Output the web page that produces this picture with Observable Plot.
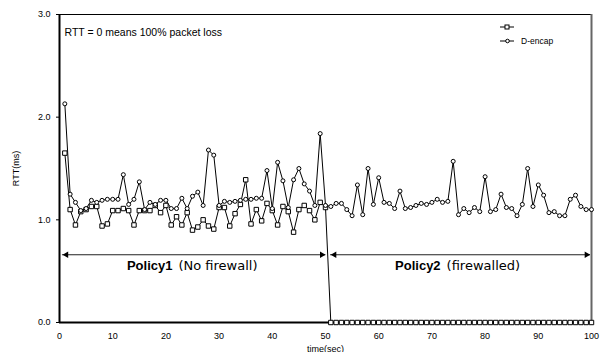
<!DOCTYPE html>
<html>
<head>
<meta charset="utf-8">
<script src="https://cdn.jsdelivr.net/npm/d3@7"></script>
<script src="https://cdn.jsdelivr.net/npm/@observablehq/plot@0.6"></script>
<style>
  html, body { margin: 0; padding: 0; background: white; }
  #wrap { position: relative; width: 606px; height: 352px; font-family: 'Liberation Sans', Arial, sans-serif; }
  #legend { position: absolute; left: 498px; top: 20px; font-size: 8.5px; color: #000; }
  #legend .row { display: flex; align-items: center; height: 14px; }
  #legend svg { display: block; }
</style>
</head>
<body>
<div id="wrap"><div id="legend"></div></div>
<script>
// ---- data ----
const seriesNames = ["", "D-encap"];
const time = [1,2,3,4,5,6,7,8,9,10,11,12,13,14,15,16,17,18,19,20,21,22,23,24,25,26,27,28,29,30,31,32,33,34,35,36,37,38,39,40,41,42,43,44,45,46,47,48,49,50,
  51,52,53,54,55,56,57,58,59,60,61,62,63,64,65,66,67,68,69,70,71,72,73,74,75,76,77,78,79,80,81,82,83,84,85,86,87,88,89,90,91,92,93,94,95,96,97,98,99,100];
const squareRTT = [1.65,1.10,0.95,1.08,1.10,1.13,1.13,0.94,0.96,1.09,1.09,1.11,1.09,0.95,1.09,1.09,1.09,1.14,1.07,1.14,
  0.95,1.03,0.95,1.07,0.90,0.93,1.00,0.94,0.91,1.12,1.12,0.94,1.06,1.15,1.39,0.96,1.10,0.99,1.16,1.09,
  0.95,1.13,1.08,0.88,1.10,1.14,1.09,1.00,1.17,1.12,
  0,0,0,0,0,0,0,0,0,0,0,0,0,0,0,0,0,0,0,0,0,0,0,0,0,0,0,0,0,0,0,0,0,0,0,0,0,0,0,0,0,0,0,0,0,0,0,0,0,0];
const circleRTT = [2.13,1.25,1.17,1.09,1.11,1.19,1.17,1.19,1.20,1.20,1.20,1.44,1.15,1.20,1.37,1.10,1.17,1.15,1.19,1.19,
  1.11,1.11,1.21,1.11,1.23,1.27,1.14,1.68,1.63,1.14,1.18,1.17,1.18,1.19,1.20,1.20,1.21,1.21,1.48,1.11,
  1.56,1.38,1.12,1.39,1.50,1.35,1.28,1.14,1.84,1.14,1.13,1.16,1.16,1.10,1.04,1.34,1.05,1.50,1.15,1.41,
  1.17,1.16,1.11,1.28,1.11,1.12,1.14,1.16,1.15,1.17,1.20,1.17,1.18,1.57,1.05,1.11,1.07,1.12,1.08,1.42,
  1.08,1.10,1.25,1.12,1.11,1.04,1.15,1.50,1.13,1.34,1.24,1.07,1.08,1.04,1.04,1.20,1.24,1.13,1.10,1.10];
const xTicks = [0,10,20,30,40,50,60,70,80,90,100];
const yTicks = [0,1,2,3];
const noteText = "RTT = 0 means 100% packet loss";
const policyNames = ["Policy1", "Policy2"];
const policyNotes = ["(No firewall)", "(firewalled)"];
const policyStart = [0.55, 50.95];
const policyEnd = [50.05, 99.8];
const policySplit = [21.8, 72.2];
const arrowY = 0.66;
const policyTextY = 0.555;

// ---- build ----
const rows = time.map((t, i) => ({t, sq: squareRTT[i], ci: circleRTT[i]}));
const policies = policyNames.map((name, i) => ({name, note: policyNotes[i], start: policyStart[i], end: policyEnd[i], split: policySplit[i]}));

const chart = Plot.plot({
  width: 606,
  height: 352,
  marginLeft: 59,
  marginRight: 15,
  marginTop: 14,
  marginBottom: 30,
  style: {fontFamily: "'Liberation Sans', Arial, sans-serif", fontSize: "9px", background: "white", color: "black", overflow: "visible"},
  x: {domain: [0, 100], ticks: xTicks, tickSize: 0, tickPadding: 10, label: "time(sec)", labelAnchor: "center", labelOffset: 29, labelArrow: "none"},
  y: {domain: [0, 3], ticks: yTicks, tickFormat: d3.format(".1f"), tickSize: 3, tickPadding: 6, label: "RTT(ms)", labelAnchor: "center", labelOffset: 47, labelArrow: "none"},
  marks: [
    Plot.frame({stroke: "black", strokeWidth: 1}),
    Plot.ruleX([100], {stroke: "#666", strokeWidth: 2}),
    Plot.ruleX([0], {stroke: "black", strokeWidth: 2}),
    Plot.ruleY([0], {stroke: "black", strokeWidth: 2}),
    Plot.text([noteText], {frameAnchor: "top-left", text: d => d, dx: 5, dy: 14, textAnchor: "start", fontSize: 10.5}),
    // policy arrows
    Plot.ruleY(policies, {y: () => arrowY, x1: "start", x2: "end", stroke: "#222", strokeWidth: 1.2}),
    Plot.dot(policies, {x: "start", y: () => arrowY, symbol: "triangle", rotate: -90, r: 2.4, fill: "black", stroke: "none", dx: 3.9}),
    Plot.dot(policies, {x: "end", y: () => arrowY, symbol: "triangle", rotate: 90, r: 2.4, fill: "black", stroke: "none", dx: -3.9}),
    Plot.text(policies, {x: "split", y: () => policyTextY, text: "name", textAnchor: "end", fontWeight: "bold", fontSize: 13, dx: -3}),
    Plot.text(policies, {x: "split", y: () => policyTextY, text: "note", textAnchor: "start", fontSize: 13, fontFamily: "'DejaVu Sans', sans-serif", dx: 3}),
    // series
    Plot.line(rows, {x: "t", y: "sq", stroke: "black", strokeWidth: 1}),
    Plot.line(rows, {x: "t", y: "ci", stroke: "black", strokeWidth: 1}),
    Plot.dot(rows, {x: "t", y: "sq", symbol: "square", r: 2.5, fill: "white", stroke: "black", strokeWidth: 1}),
    Plot.dot(rows, {x: "t", y: "ci", symbol: "circle", r: 2, fill: "white", stroke: "black", strokeWidth: 1})
  ]
});
document.getElementById("wrap").prepend(chart);

// legend overlay
const legend = document.getElementById("legend");
seriesNames.forEach((name, i) => {
  const row = document.createElement("div");
  row.className = "row";
  const ns = "http://www.w3.org/2000/svg";
  const svg = document.createElementNS(ns, "svg");
  svg.setAttribute("width", 20); svg.setAttribute("height", 14);
  const line = document.createElementNS(ns, "line");
  line.setAttribute("x1", 2); line.setAttribute("x2", 16); line.setAttribute("y1", 7); line.setAttribute("y2", 7);
  line.setAttribute("stroke", "black"); line.setAttribute("stroke-width", 1);
  svg.appendChild(line);
  let m;
  if (i === 0) {
    m = document.createElementNS(ns, "rect");
    m.setAttribute("x", 7); m.setAttribute("y", 5); m.setAttribute("width", 4); m.setAttribute("height", 4);
  } else {
    m = document.createElementNS(ns, "circle");
    m.setAttribute("cx", 9.5); m.setAttribute("cy", 7); m.setAttribute("r", 1.8);
  }
  m.setAttribute("fill", "white"); m.setAttribute("stroke", "black"); m.setAttribute("stroke-width", 1);
  svg.appendChild(m);
  row.appendChild(svg);
  const span = document.createElement("span");
  span.textContent = name;
  span.style.marginLeft = "3px";
  row.appendChild(span);
  legend.appendChild(row);
});
</script>
</body>
</html>
